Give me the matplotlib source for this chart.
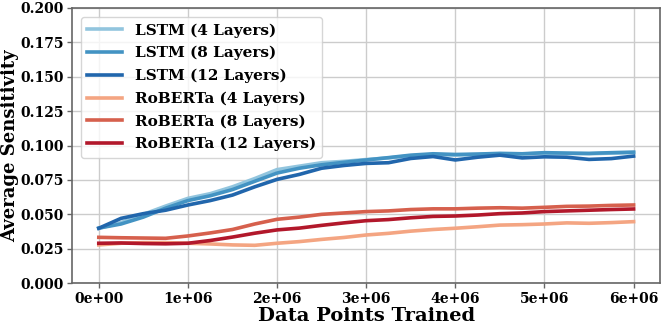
import matplotlib.pyplot as plt
import numpy as np

steps = np.arange(25) * 0.25e6

lstm_4 = [0.0399, 0.0440, 0.0500, 0.0560, 0.0616, 0.0650, 0.0700, 0.0760, 0.0825, 0.0850,
          0.0875, 0.0885, 0.0898, 0.0910, 0.0925, 0.0935, 0.0930, 0.0935, 0.0940, 0.0938,
          0.0945, 0.0942, 0.0940, 0.0945, 0.0948]
lstm_8 = [0.0400, 0.0430, 0.0480, 0.0545, 0.0600, 0.0635, 0.0680, 0.0740, 0.0800, 0.0835,
          0.0860, 0.0878, 0.0895, 0.0912, 0.0930, 0.0940, 0.0935, 0.0938, 0.0943, 0.0940,
          0.0948, 0.0945, 0.0943, 0.0948, 0.0952]
lstm_12 = [0.0399, 0.0471, 0.0505, 0.0530, 0.0568, 0.0600, 0.0640, 0.0700, 0.0754, 0.0790,
           0.0835, 0.0855, 0.0870, 0.0875, 0.0906, 0.0920, 0.0895, 0.0915, 0.0930, 0.0910,
           0.0918, 0.0915, 0.0899, 0.0905, 0.0923]
roberta_4 = [0.0278, 0.0290, 0.0295, 0.0295, 0.0290, 0.0285, 0.0278, 0.0275, 0.0290, 0.0302,
             0.0318, 0.0332, 0.0350, 0.0362, 0.0378, 0.0390, 0.0399, 0.0410, 0.0422, 0.0425,
             0.0430, 0.0438, 0.0435, 0.0440, 0.0447]
roberta_8 = [0.0333, 0.0330, 0.0328, 0.0326, 0.0343, 0.0365, 0.0390, 0.0430, 0.0464, 0.0480,
             0.0500, 0.0510, 0.0520, 0.0525, 0.0535, 0.0540, 0.0540, 0.0545, 0.0548, 0.0545,
             0.0551, 0.0558, 0.0560, 0.0565, 0.0568]
roberta_12 = [0.0290, 0.0292, 0.0288, 0.0286, 0.0290, 0.0310, 0.0335, 0.0363, 0.0387, 0.0400,
              0.0420, 0.0438, 0.0454, 0.0462, 0.0475, 0.0485, 0.0488, 0.0495, 0.0505, 0.0510,
              0.0520, 0.0525, 0.0530, 0.0535, 0.0539]

labels = ["LSTM (4 Layers)", "LSTM (8 Layers)", "LSTM (12 Layers)",
          "RoBERTa (4 Layers)", "RoBERTa (8 Layers)", "RoBERTa (12 Layers)"]
colors = ["#92c5de", "#4393c3", "#2166ac", "#f4a582", "#d6604d", "#b2182b"]
series = [lstm_4, lstm_8, lstm_12, roberta_4, roberta_8, roberta_12]

plt.rcParams['font.family'] = 'DejaVu Serif'
plt.rcParams['font.weight'] = 'bold'

fig = plt.figure(figsize=(6.64, 3.27), dpi=100)
ax = fig.add_axes([0.1085, 0.134, 0.886, 0.842])
for ys, lab, c in zip(series, labels, colors):
    ax.plot(steps, ys, color=c, linewidth=2.6, label=lab)

ax.set_ylim(0, 0.2)
ax.set_yticks(np.arange(0, 0.201, 0.025))
ax.yaxis.set_major_formatter(plt.FormatStrFormatter('%.3f'))
ax.xaxis.set_major_formatter(plt.FuncFormatter(lambda v, p: f"{v:.0e}"))
ax.tick_params(length=3.5, width=1, color='#666666', labelsize=10, pad=2.5)
ax.grid(True, color='#cccccc', linewidth=1)
ax.set_axisbelow(True)
for s in ax.spines.values():
    s.set_color('#666666')
    s.set_linewidth(1.2)
ax.set_xlabel("Data Points Trained", fontsize=14, fontweight='bold', labelpad=1)
ax.set_ylabel("Average Sensitivity", fontsize=13, fontweight='bold')
ax.yaxis.set_label_coords(-0.09, 0.5)
ax.legend(loc='upper left', fontsize=11, handlelength=2.3, labelspacing=0.55,
          borderaxespad=0.6)

fig.savefig("out.png", dpi=100)
